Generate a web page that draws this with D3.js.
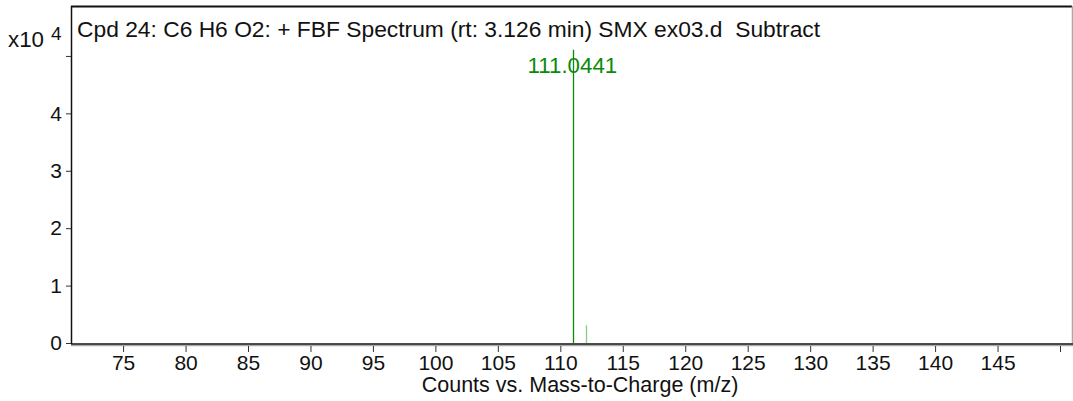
<!DOCTYPE html>
<html>
<head>
<meta charset="utf-8">
<script src="https://cdn.jsdelivr.net/npm/d3@7"></script>
<style>
	body { margin: 0; background: #fff; }
	#chart { width: 1073px; height: 401px; }
	text { font-family: "Liberation Sans", Arial, sans-serif; fill: #111; white-space: pre; }
</style>
</head>
<body>
<div id="chart"></div>
<script>
"use strict"

// spectrum peaks (m/z, counts)
const peakMz = [111.0441, 112.048];
const peakCounts = [51100, 3100];
const peakColors = ["#0a8a0a", "#8cc88c"];
const labelledPeaks = ["111.0441"];

const xTicks = [75, 80, 85, 90, 95, 100, 105, 110, 115, 120, 125, 130, 135, 140, 145, 150];
const xTickLabels = ["75", "80", "85", "90", "95", "100", "105", "110", "115", "120", "125", "130", "135", "140", "145", ""];
const yTicks = [0, 1, 2, 3, 4, 5];
const yTickLabels = ["0", "1", "2", "3", "4", ""];

const title = "Cpd 24: C6 H6 O2: + FBF Spectrum (rt: 3.126 min) SMX ex03.d  Subtract";
const xTitle = "Counts vs. Mass-to-Charge (m/z)";

let SpectrumView = function(targetID) {
	let self = {
		totalWidth: 1073,
		totalHeight: 401,
		margin: { left: 71, right: 1, top: 6, bottom: 58 },
		xScale: d3.scaleLinear(),
		yScale: d3.scaleLinear(),
		font: "'Liberation Sans', Arial, sans-serif",
	};

	function draw() {
		let width = self.totalWidth - self.margin.left - self.margin.right;
		let height = self.totalHeight - self.margin.top - self.margin.bottom;

		self.xScale.domain([70.83, 150.96]).range([0, width]);
		self.yScale.domain([0, 5.87]).range([height, 0]);

		let svg = d3.select(targetID).append("svg")
			.attr("width", self.totalWidth)
			.attr("height", self.totalHeight);

		let g = svg.append("g")
			.attr("transform", `translate(${self.margin.left},${self.margin.top})`);

		// frame
		g.append("line").attr("x1", 0).attr("x2", width).attr("y1", 0.5).attr("y2", 0.5)
			.attr("stroke", "#111").attr("stroke-width", 2);
		g.append("line").attr("x1", width + 0.5).attr("x2", width + 0.5).attr("y1", 0).attr("y2", height)
			.attr("stroke", "#aaa").attr("stroke-width", 1.5);
		g.append("line").attr("x1", 0.5).attr("x2", 0.5).attr("y1", 0).attr("y2", height + 1)
			.attr("stroke", "#111").attr("stroke-width", 1.5);
		g.append("line").attr("x1", 0).attr("x2", width + 1).attr("y1", height + 2.5).attr("y2", height + 2.5)
			.attr("stroke", "#aaa").attr("stroke-width", 1.5);
		g.append("line").attr("x1", 0).attr("x2", width + 1).attr("y1", height + 1).attr("y2", height + 1)
			.attr("stroke", "#111").attr("stroke-width", 1.5);

		// x axis
		let xAxis = d3.axisBottom(self.xScale)
			.tickValues(xTicks)
			.tickSize(6)
			.tickPadding(3)
			.tickFormat((d, i) => xTickLabels[i]);
		let xg = g.append("g").attr("transform", `translate(0,${height + 3})`).call(xAxis);
		xg.select(".domain").remove();
		xg.selectAll(".tick line").attr("stroke", "#333");
		xg.selectAll(".tick text").attr("font-size", 21).attr("fill", "#111")
			.style("font-family", self.font);

		// y axis
		let yAxis = d3.axisLeft(self.yScale)
			.tickValues(yTicks)
			.tickSize(5)
			.tickPadding(4)
			.tickFormat((d, i) => yTickLabels[i]);
		let yg = g.append("g").call(yAxis);
		yg.select(".domain").remove();
		yg.selectAll(".tick line").attr("stroke", "#333");
		yg.selectAll(".tick text").attr("font-size", 21).attr("fill", "#111")
			.style("font-family", self.font);

		// peaks
		g.append("g").selectAll("line")
			.data(peakMz)
			.enter().append("line")
				.attr("x1", d => Math.round(self.xScale(d)) + 0.5)
				.attr("x2", d => Math.round(self.xScale(d)) + 0.5)
				.attr("y1", self.yScale(0))
				.attr("y2", (d, i) => self.yScale(peakCounts[i] / 10000))
				.attr("stroke", (d, i) => peakColors[i])
				.attr("stroke-width", 1.3);

		g.append("g").selectAll("text")
			.data(labelledPeaks)
			.enter().append("text")
				.attr("x", d => self.xScale(+d) - 1)
				.attr("y", 67)
				.attr("text-anchor", "middle")
				.attr("font-size", 22.3)
				.style("fill", peakColors[0])
				.text(d => d);

		// title
		g.append("text")
			.attr("x", 6)
			.attr("y", 31)
			.attr("font-size", 22.8)
			.text(title);

		// exponent
		svg.append("text").attr("x", 8).attr("y", 47).attr("font-size", 22.3).text("x10");
		svg.append("text").attr("x", 51).attr("y", 40).attr("font-size", 19).text("4");

		// x title
		svg.append("text")
			.attr("x", 580)
			.attr("y", 392)
			.attr("text-anchor", "middle")
			.attr("font-size", 21.5)
			.text(xTitle);
	}

	return { draw };
};

SpectrumView("#chart").draw();
</script>
</body>
</html>
